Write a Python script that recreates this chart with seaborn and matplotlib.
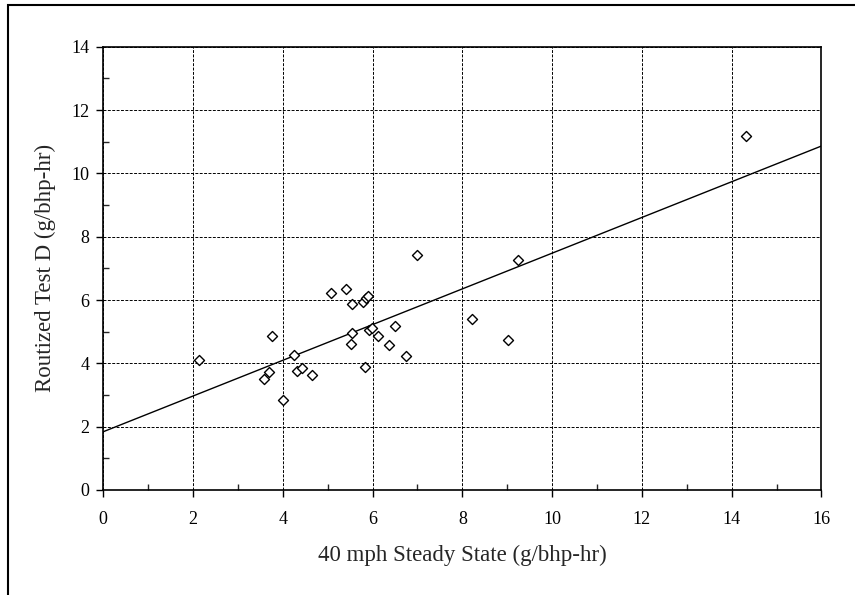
import matplotlib
matplotlib.use("Agg")
import matplotlib.pyplot as plt
from matplotlib.patches import Rectangle
from matplotlib.ticker import MultipleLocator
import numpy as np
import pandas as pd
import seaborn as sns

# Steady-state vs routized emissions (g/bhp-hr)
steady_40mph = [2.14, 3.75, 3.57, 3.70, 4.01, 4.25, 4.32, 4.42, 4.65, 5.08,
                5.41, 5.55, 5.51, 5.55, 5.78, 5.86, 5.90, 5.83, 5.91, 5.98,
                6.11, 6.50, 6.36, 6.75, 9.24, 8.21, 9.01, 14.31, 7.00]
routized_d = [4.10, 4.87, 3.50, 3.72, 2.83, 4.27, 3.76, 3.84, 3.64, 6.23,
              6.35, 5.86, 4.62, 4.97, 5.93, 6.07, 6.13, 3.87, 5.04, 5.13,
              4.87, 5.18, 4.58, 4.24, 7.27, 5.41, 4.73, 11.17, 7.43]

# Linear trend line
trend_intercept = 1.84
trend_slope = 0.564

x_ticks = [0, 2, 4, 6, 8, 10, 12, 14, 16]
y_ticks = [0, 2, 4, 6, 8, 10, 12, 14]

sns.set_style("white")
plt.rcParams["font.family"] = ["Liberation Serif", "DejaVu Serif"]

df = pd.DataFrame({"x": steady_40mph, "y": routized_d})
trend_x = np.array([x_ticks[0], x_ticks[-1]], dtype=float)
trend_df = pd.DataFrame({"x": trend_x, "y": trend_intercept + trend_slope * trend_x})

fig = plt.figure(figsize=(8.55, 5.95), dpi=100)
ax = fig.add_axes([0.1208, 0.1765, 0.8400, 0.7450])

ax.grid(True, which="major", color="black", linestyle=(0, (3, 1.5)), linewidth=0.7)
ax.set_axisbelow(True)

sns.lineplot(data=trend_df, x="x", y="y", ax=ax, color="black", linewidth=1.0, zorder=3)
sns.scatterplot(data=df, x="x", y="y", ax=ax, marker="D", s=26,
                facecolor="white", edgecolor="black", linewidth=1.0, zorder=4)

ax.set_xlim(0, 16)
ax.set_ylim(0, 14)
ax.set_xticks(x_ticks)
ax.set_yticks(y_ticks)
ax.xaxis.set_minor_locator(MultipleLocator(1))
ax.yaxis.set_minor_locator(MultipleLocator(1))
ax.tick_params(which="major", direction="out", length=5, width=1.0, labelsize=13,
               bottom=True, left=True, pad=10, colors="black")
ax.tick_params(which="minor", direction="in", length=4, width=1.0,
               bottom=True, left=True)
ax.tick_params(axis="y", which="major", pad=5)

for sp in ax.spines.values():
    sp.set_color("black")
    sp.set_linewidth(1.2)

ax.set_xlabel("40 mph Steady State (g/bhp-hr)", fontsize=16.5, labelpad=12)
ax.set_ylabel("Routized Test D (g/bhp-hr)", fontsize=16.5, labelpad=11)

# Outer frame of the figure
fig.patches.append(Rectangle((8 / 855, -0.05), 1.2, 1 - 5 / 595 + 0.05,
                             transform=fig.transFigure, fill=False,
                             edgecolor="black", linewidth=1.5))

fig.savefig("out.png", dpi=100)
